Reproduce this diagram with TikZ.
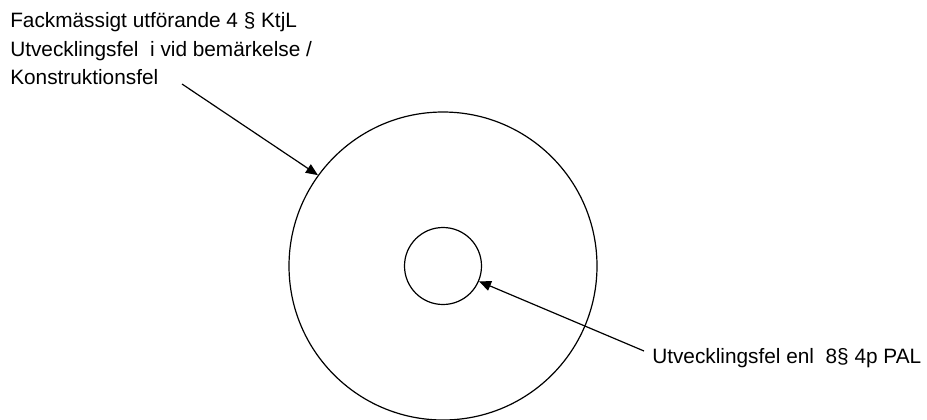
\documentclass[tikz,border=0pt]{standalone}
\usepackage{fontspec}
\setmainfont{Liberation Sans}
\usetikzlibrary{arrows.meta}

\begin{document}
\begin{tikzpicture}[x=0.75pt,y=-0.75pt,
  ring/.style={draw,circle,line width=0.9pt,inner sep=0pt},
  lbl/.style={inner sep=0pt,font=\fontsize{15.6}{21.6}\selectfont,align=left},
  arr/.style={-{Triangle[length=9pt,width=7.5pt]},line width=0.9pt}]
  \useasboundingbox (0,0) rectangle (927,419);
  % Rings
  \node[ring,minimum size=231pt] (outer) at (443,266) {};
  \node[ring,minimum size=57.75pt] (inner) at (443,266) {};
  % Labels
  \node[lbl,anchor=north west] (toplbl) at (10,12) {Fackmässigt utförande 4 § KtjL\\Utvecklingsfel\ \ i vid bemärkelse /\\Konstruktionsfel};
  \node[lbl,anchor=base west] (rightlbl) at (652,363) {Utvecklingsfel enl\ \ 8§ 4p PAL};
  \coordinate (s1) at (182,84);
  \coordinate (s2) at (644,351);
  % Arrows
  \draw[arr] (s1) -- (outer.144);
  \draw[arr] (s2) -- (inner.-23);
\end{tikzpicture}
\end{document}
